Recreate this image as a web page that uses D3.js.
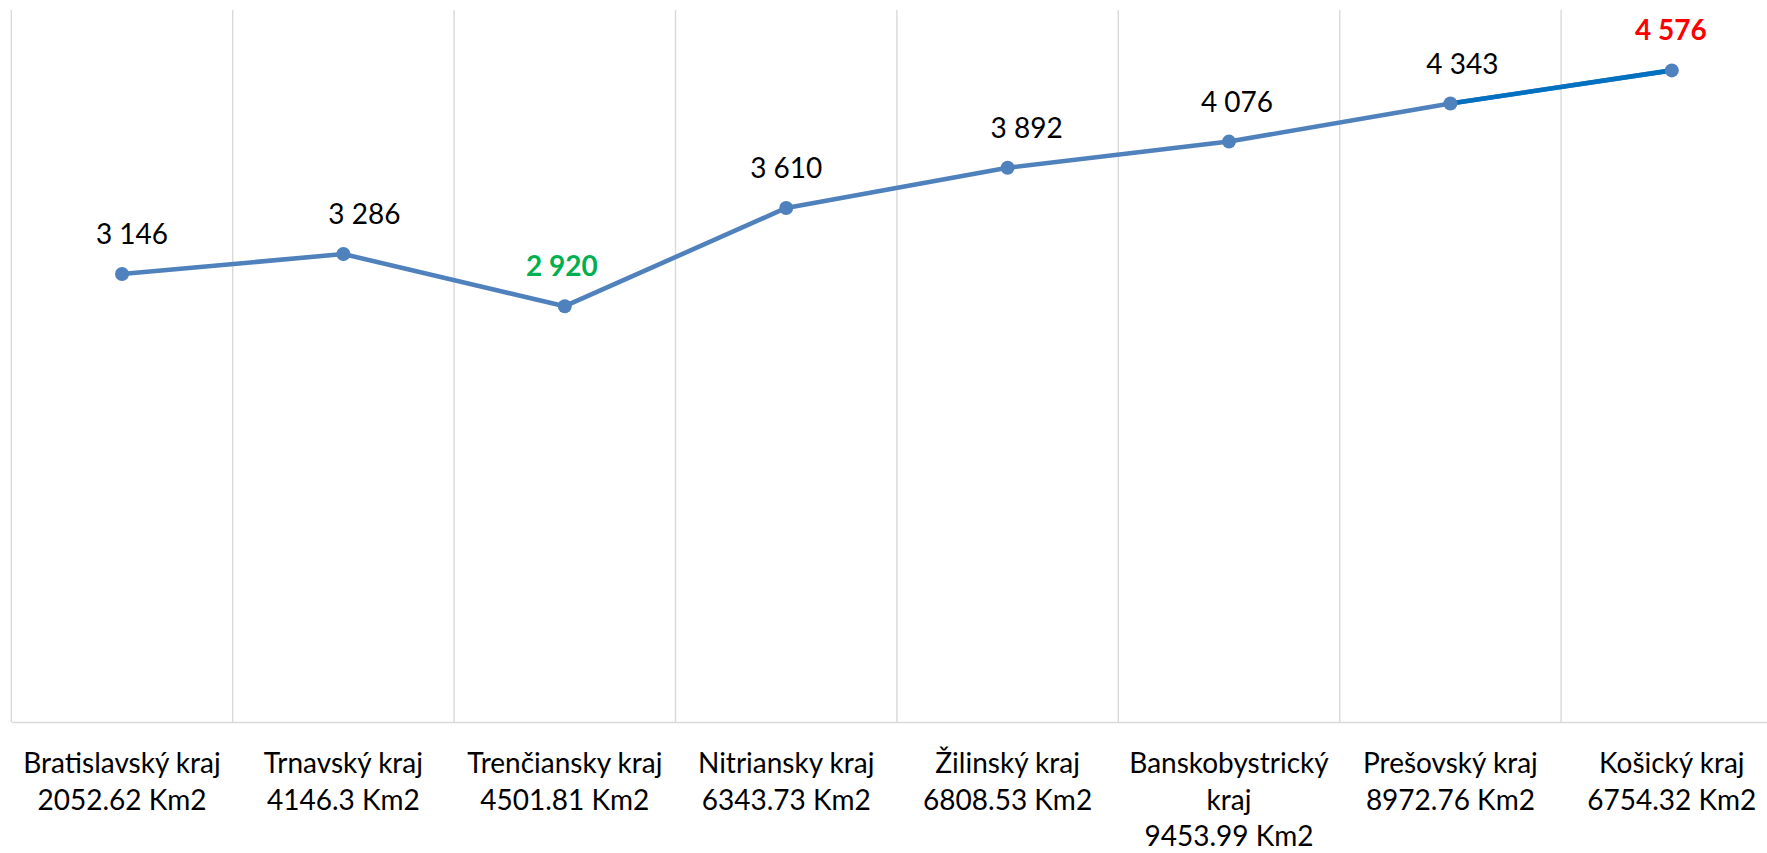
<!DOCTYPE html>
<html>
<head>
<meta charset="utf-8">
<script src="https://cdn.jsdelivr.net/npm/d3@7"></script>
<style>
  body { margin: 0; background: #fff; }
  svg { display: block; }
  text { font-family: Lato, "Open Sans", sans-serif; }
</style>
</head>
<body>
<svg id="chart" width="1767" height="853"></svg>
<script>
// data
const regions = ['Bratislavský kraj', 'Trnavský kraj', 'Trenčiansky kraj', 'Nitriansky kraj',
  'Žilinský kraj', 'Banskobystrický kraj', 'Prešovský kraj', 'Košický kraj'];
const areas = ['2052.62', '4146.3', '4501.81', '6343.73', '6808.53', '9453.99', '8972.76', '6754.32'];
const values = [3146, 3286, 2920, 3610, 3892, 4076, 4343, 4576];
const yDomain = [0, 5000];

// small manual nudges of the value labels (as placed in the original)
const labelDx = [10, 21, -3, 0, 19, 8, 12, -1];

const svg = d3.select('#chart');
const plotTop = 10, plotBottom = 722, plotLeft = 11.3, band = 221.4;

// scales
const x = d3.scaleBand()
  .domain(regions)
  .range([plotLeft, plotLeft + band * regions.length])
  .padding(0);
const y = d3.scaleLinear()
  .domain(yDomain)
  .range([plotBottom, plotTop]);

const fmt = d3.formatLocale({ decimal: ',', thousands: ' ', grouping: [3], currency: ['', ''] }).format(',d');

// vertical gridlines at band edges
svg.append('g')
  .selectAll('line')
  .data(regions)
  .enter()
  .append('line')
  .attr('x1', d => x(d))
  .attr('x2', d => x(d))
  .attr('y1', y(yDomain[1]))
  .attr('y2', y(yDomain[0]))
  .attr('stroke', '#d9d9d9')
  .attr('stroke-width', 1.4);

// x axis
const axis = svg.append('g')
  .attr('transform', `translate(0,${y(0)})`)
  .call(d3.axisBottom(x).tickSize(0).tickSizeOuter(0));
axis.select('.domain').attr('stroke', '#d9d9d9').attr('stroke-width', 1.6);

const maxW = 216, lineH = 36.5;
axis.selectAll('.tick text')
  .attr('fill', '#000')
  .style('font-size', '28px')
  .each(function(d, i) {
    const t = d3.select(this);
    t.text(null).attr('y', 0).attr('dy', null);
    // wrap region name by words
    const words = d.split(' ');
    const lines = [];
    let cur = '';
    const probe = t.append('tspan');
    for (const w of words) {
      const test = cur ? cur + ' ' + w : w;
      probe.text(test);
      if (probe.node().getComputedTextLength() > maxW && cur) {
        lines.push(cur);
        cur = w;
      } else {
        cur = test;
      }
    }
    lines.push(cur);
    probe.remove();
    lines.push(areas[i] + ' Km2');
    lines.forEach((l, k) => {
      t.append('tspan')
        .attr('x', 0)
        .attr('y', 51 + k * lineH)
        .text(l);
    });
  });

const cx = d => x(d) + x.bandwidth() / 2;
const pts = regions.map((r, i) => [cx(r), y(values[i])]);

// line
const line = d3.line();
svg.append('path')
  .datum(pts)
  .attr('fill', 'none')
  .attr('stroke', '#4f81bd')
  .attr('stroke-width', 4.6)
  .attr('stroke-linejoin', 'round')
  .attr('d', line);

// last segment drawn in a darker blue
svg.append('path')
  .datum(pts.slice(-2))
  .attr('fill', 'none')
  .attr('stroke', '#0070c0')
  .attr('stroke-width', 4.6)
  .attr('d', line);

// markers
svg.selectAll('.dot')
  .data(values)
  .enter()
  .append('circle')
  .attr('class', 'dot')
  .attr('cx', (d, i) => cx(regions[i]))
  .attr('cy', d => y(d))
  .attr('r', 7)
  .attr('fill', '#4f81bd');

// value labels: lowest in green, highest in red
const vMin = d3.min(values), vMax = d3.max(values);
svg.selectAll('.val')
  .data(values)
  .enter()
  .append('text')
  .attr('class', 'val')
  .attr('x', (d, i) => cx(regions[i]) + labelDx[i])
  .attr('y', d => y(d) - 30)
  .attr('text-anchor', 'middle')
  .style('font-size', '28px')
  .style('font-weight', d => (d === vMin || d === vMax) ? 700 : 400)
  .attr('fill', d => d === vMin ? '#00b050' : d === vMax ? '#ff0000' : '#000')
  .text(d => fmt(d));
</script>
</body>
</html>
